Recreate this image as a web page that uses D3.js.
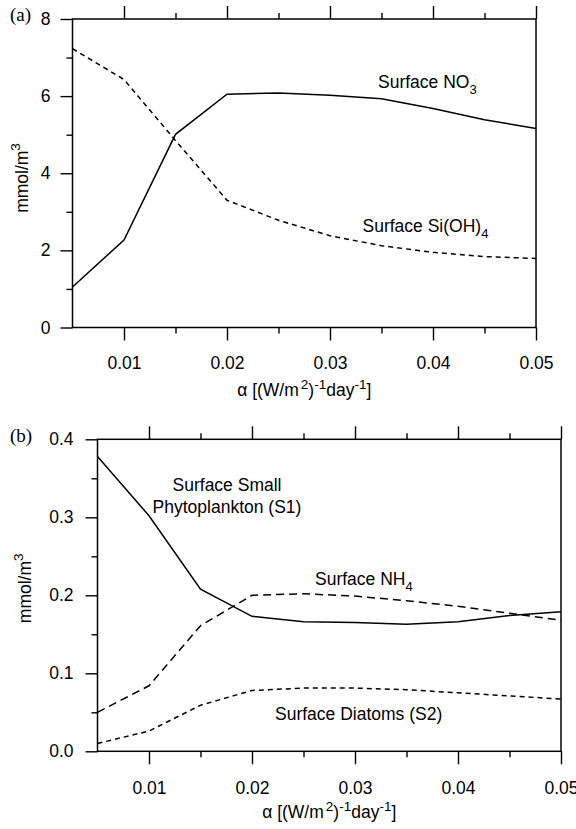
<!DOCTYPE html>
<html>
<head>
<meta charset="utf-8">
<script src="https://cdn.jsdelivr.net/npm/d3@7"></script>
<style>
  body { margin: 0; background: #fff; }
  svg { display: block; }
  .axis path { display: none; }
  .axis line { stroke: #000; stroke-width: 1.4; }
  .axis text { font-family: "Liberation Sans", Arial, Helvetica, sans-serif; font-size: 17.5px; fill: #000; }
  .frame { fill: none; stroke: #000; stroke-width: 1.5; }
  .lbl { font-family: "Liberation Sans", Arial, Helvetica, sans-serif; font-size: 17.5px; fill: #000; }
  .tag { font-family: "Liberation Serif", "Times New Roman", serif; font-size: 19px; fill: #000; }
</style>
</head>
<body>
<div id="chart"></div>
<script>
// light use efficiency alpha, (W/m2)^-1 day^-1
var alphaValues = [0.005, 0.01, 0.015, 0.02, 0.025, 0.03, 0.035, 0.04, 0.045, 0.05];

// panel (a), mmol/m3
var no3Values = [1.05, 2.27, 5.01, 6.05, 6.08, 6.02, 5.93, 5.68, 5.39, 5.16];
var siValues  = [7.23, 6.43, 4.85, 3.30, 2.78, 2.38, 2.12, 1.95, 1.84, 1.79];

// panel (b), mmol/m3
var s1Values  = [0.378, 0.302, 0.208, 0.173, 0.166, 0.165, 0.163, 0.166, 0.174, 0.179];
var nh4Values = [0.050, 0.084, 0.161, 0.200, 0.202, 0.199, 0.193, 0.186, 0.177, 0.168];
var s2Values  = [0.010, 0.026, 0.059, 0.078, 0.081, 0.081, 0.079, 0.075, 0.071, 0.067];

var xMajorTicks = [0.01, 0.02, 0.03, 0.04, 0.05];
var xMinorTicks = [0.015, 0.025, 0.035, 0.045];
var aMajorTicks = [0, 2, 4, 6, 8];
var aMinorTicks = [1, 3, 5, 7];
var bMajorTicks = [0, 0.1, 0.2, 0.3, 0.4];
var bMinorTicks = [0.05, 0.15, 0.25, 0.35];

var width = 576, height = 829,
    panelW = 463.5;

var svg = d3.select("#chart")
            .append("svg")
            .attr("width", width)
            .attr("height", height);

function zip(ys) {
  return alphaValues.map(function(a, i) { return {x: a, y: ys[i]}; });
}

function draw_panel(p) {
  var panelH = p.height;
  var g = svg.append("g")
             .attr("transform", "translate(" + p.left + "," + p.top + ")");

  var x = d3.scaleLinear().domain([0.005, 0.05]).range([0, panelW]),
      y = d3.scaleLinear().domain(p.yDomain).range([panelH, 0]);

  // x ticks, bottom and top
  g.append("g").attr("class", "axis")
   .attr("transform", "translate(0," + panelH + ")")
   .call(d3.axisBottom(x).tickValues(xMajorTicks).tickSize(13).tickSizeOuter(0)
           .tickPadding(p.xPad).tickFormat(d3.format(".2f")));
  g.append("g").attr("class", "axis")
   .attr("transform", "translate(0," + panelH + ")")
   .call(d3.axisBottom(x).tickValues(xMinorTicks).tickSize(6).tickSizeOuter(0)
           .tickFormat(""));
  g.append("g").attr("class", "axis")
   .call(d3.axisTop(x).tickValues(xMajorTicks).tickSize(13).tickSizeOuter(0)
           .tickFormat(""));
  g.append("g").attr("class", "axis")
   .call(d3.axisTop(x).tickValues(xMinorTicks).tickSize(6).tickSizeOuter(0)
           .tickFormat(""));

  // y ticks, left only
  g.append("g").attr("class", "axis")
   .call(d3.axisLeft(y).tickValues(p.yMajor).tickSize(12).tickSizeOuter(0)
           .tickPadding(p.yPad).tickFormat(d3.format(p.yFormat)));
  g.append("g").attr("class", "axis")
   .call(d3.axisLeft(y).tickValues(p.yMinor).tickSize(6).tickSizeOuter(0)
           .tickFormat(""));

  g.append("rect").attr("class", "frame")
   .attr("width", panelW).attr("height", panelH);

  var line = d3.line()
               .x(function(d) { return x(d.x); })
               .y(function(d) { return y(d.y); });

  p.series.forEach(function(s) {
    g.append("path")
     .attr("d", line(zip(s.values)))
     .attr("fill", "none")
     .attr("stroke", "#000")
     .attr("stroke-width", 1.5)
     .attr("stroke-dasharray", s.dash);
  });

  // curve labels
  p.labels.forEach(function(l) {
    var t = g.append("text").attr("class", "lbl")
             .attr("x", l.dx).attr("y", l.dy)
             .attr("text-anchor", l.anchor || "start");
    t.append("tspan").text(l.text);
    if (l.sub) {
      t.append("tspan").attr("dy", 6).attr("font-size", "13px").text(l.sub);
    }
    if (l.line2) {
      g.append("text").attr("class", "lbl")
       .attr("x", l.dx).attr("y", l.dy + 22)
       .attr("text-anchor", "middle")
       .text(l.line2);
    }
  });

  // panel tag
  svg.append("text").attr("class", "tag")
     .attr("x", 10).attr("y", p.top + p.tagDy)
     .text(p.tag);

  // y title
  var yt = svg.append("text").attr("class", "lbl")
              .attr("font-size", "18.5px")
              .attr("transform", "translate(" + p.yTitleX + "," + (p.top + p.yTitleDy) + ") rotate(-90)")
              .attr("text-anchor", "middle");
  yt.append("tspan").text("mmol/m");
  yt.append("tspan").attr("dy", -8).attr("font-size", "13.5px").text("3");

  // x title
  var xt = svg.append("text").attr("class", "lbl")
              .attr("x", p.left + panelW / 2)
              .attr("y", p.top + panelH + p.titleDy)
              .attr("text-anchor", "middle");
  xt.append("tspan").text("\u03b1 [(W/m");
  xt.append("tspan").attr("dx", 2).attr("dy", -7).attr("font-size", "13.5px").text("2");
  xt.append("tspan").attr("dy", 7).text(")");
  xt.append("tspan").attr("dy", -7).attr("font-size", "13.5px").text("-1");
  xt.append("tspan").attr("dy", 7).text("day");
  xt.append("tspan").attr("dy", -7).attr("font-size", "13.5px").text("-1");
  xt.append("tspan").attr("dy", 7).text("]");
}

draw_panel({
  left: 72.5, top: 19, height: 308.5,
  yDomain: [0, 8], yMajor: aMajorTicks, yMinor: aMinorTicks,
  yFormat: "d", yPad: 10, xPad: 16, titleDy: 68,
  tag: "(a)", tagDy: 2, yTitleX: 28, yTitleDy: 159,
  series: [
    {values: no3Values, dash: null},
    {values: siValues, dash: "5,4"}
  ],
  labels: [
    {text: "Surface NO", sub: "3", dx: 305.5, dy: 69},
    {text: "Surface Si(OH)", sub: "4", dx: 290, dy: 213}
  ]
});

draw_panel({
  left: 97.5, top: 439.3, height: 312,
  yDomain: [0, 0.4], yMajor: bMajorTicks, yMinor: bMinorTicks,
  yFormat: ".1f", yPad: 12, xPad: 17, titleDy: 67,
  tag: "(b)", tagDy: 3, yTitleX: 31, yTitleDy: 149,
  series: [
    {values: s1Values, dash: null},
    {values: nh4Values, dash: "8,5"},
    {values: s2Values, dash: "5,4"}
  ],
  labels: [
    {text: "Surface Small", dx: 129.5, dy: 51.4, anchor: "middle", line2: "Phytoplankton (S1)"},
    {text: "Surface NH", sub: "4", dx: 217.5, dy: 146},
    {text: "Surface Diatoms (S2)", dx: 177.5, dy: 281}
  ]
});
</script>
</body>
</html>
